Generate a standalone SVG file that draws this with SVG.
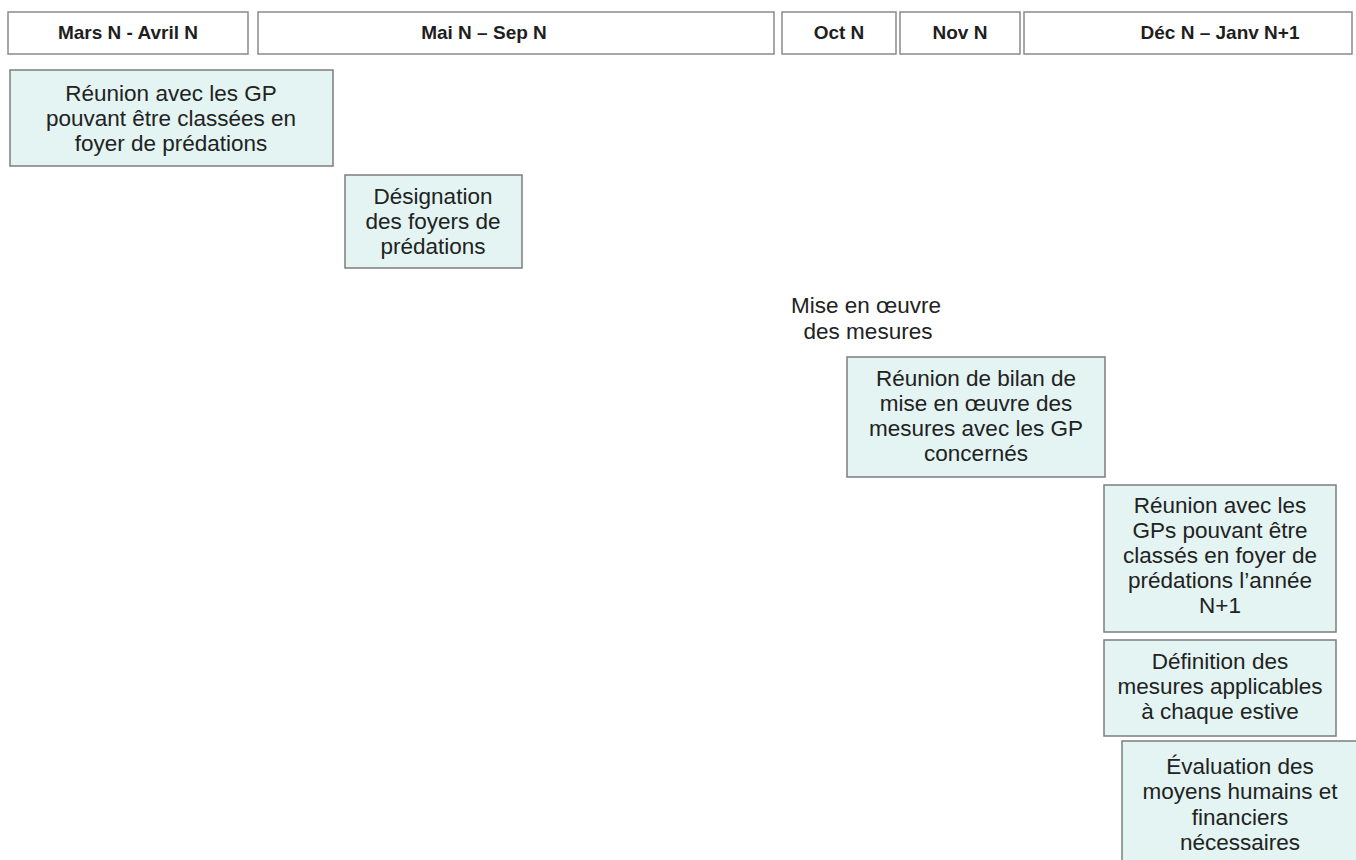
<svg xmlns="http://www.w3.org/2000/svg" width="1356" height="860" viewBox="0 0 1356 860">
<style>
.hd{fill:#ffffff;stroke:#8a8a8a;stroke-width:1.5}
.bx{fill:#e3f4f2;stroke:#7d7d7d;stroke-width:1.5}
.ht{font-family:"Liberation Sans",Arial,sans-serif;font-weight:bold;font-size:19px;fill:#1e1e1e;text-anchor:middle}
.t{font-family:"Liberation Sans",Arial,sans-serif;font-size:22.5px;fill:#222;text-anchor:middle}
</style>
<rect width="1356" height="860" fill="#ffffff"/>
<g id="header">
<g id="h1"><rect class="hd" x="8" y="12" width="240" height="42"/><text class="ht" x="128" y="39">Mars N - Avril N</text></g>
<g id="h2"><rect class="hd" x="258" y="12" width="516" height="42"/><text class="ht" x="484" y="39">Mai N – Sep N</text></g>
<g id="h3"><rect class="hd" x="782" y="12" width="114" height="42"/><text class="ht" x="839" y="39">Oct N</text></g>
<g id="h4"><rect class="hd" x="900" y="12" width="120" height="42"/><text class="ht" x="960" y="39">Nov N</text></g>
<g id="h5"><rect class="hd" x="1024" y="12" width="328" height="42"/><text class="ht" x="1220" y="39">Déc N – Janv N+1</text></g>
</g>
<g id="n1"><rect class="bx" x="10" y="70" width="323" height="96"/>
<text class="t" x="171" y="101">Réunion avec les GP</text>
<text class="t" x="171" y="126">pouvant être classées en</text>
<text class="t" x="171" y="151">foyer de prédations</text></g>
<g id="n2"><rect class="bx" x="345" y="175" width="177" height="93"/>
<text class="t" x="433" y="204">Désignation</text>
<text class="t" x="433" y="229">des foyers de</text>
<text class="t" x="433" y="254">prédations</text></g>
<g id="n3">
<text class="t" x="866" y="313">Mise en œuvre</text>
<text class="t" x="868" y="339">des mesures</text></g>
<g id="n4"><rect class="bx" x="847" y="357" width="258" height="120"/>
<text class="t" x="976" y="386">Réunion de bilan de</text>
<text class="t" x="976" y="411">mise en œuvre des</text>
<text class="t" x="976" y="436">mesures avec les GP</text>
<text class="t" x="976" y="461">concernés</text></g>
<g id="n5"><rect class="bx" x="1104" y="485" width="232" height="147"/>
<text class="t" x="1220" y="513">Réunion avec les</text>
<text class="t" x="1220" y="538">GPs pouvant être</text>
<text class="t" x="1220" y="563">classés en foyer de</text>
<text class="t" x="1220" y="588">prédations l’année</text>
<text class="t" x="1220" y="613">N+1</text></g>
<g id="n6"><rect class="bx" x="1104" y="640" width="232" height="96"/>
<text class="t" x="1220" y="669">Définition des</text>
<text class="t" x="1220" y="694">mesures applicables</text>
<text class="t" x="1220" y="719">à chaque estive</text></g>
<g id="n7"><rect class="bx" x="1122" y="741" width="244" height="130"/>
<text class="t" x="1240" y="774">Évaluation des</text>
<text class="t" x="1240" y="799">moyens humains et</text>
<text class="t" x="1240" y="825">financiers</text>
<text class="t" x="1240" y="850">nécessaires</text></g>
<g id="connectors"></g>
</svg>
